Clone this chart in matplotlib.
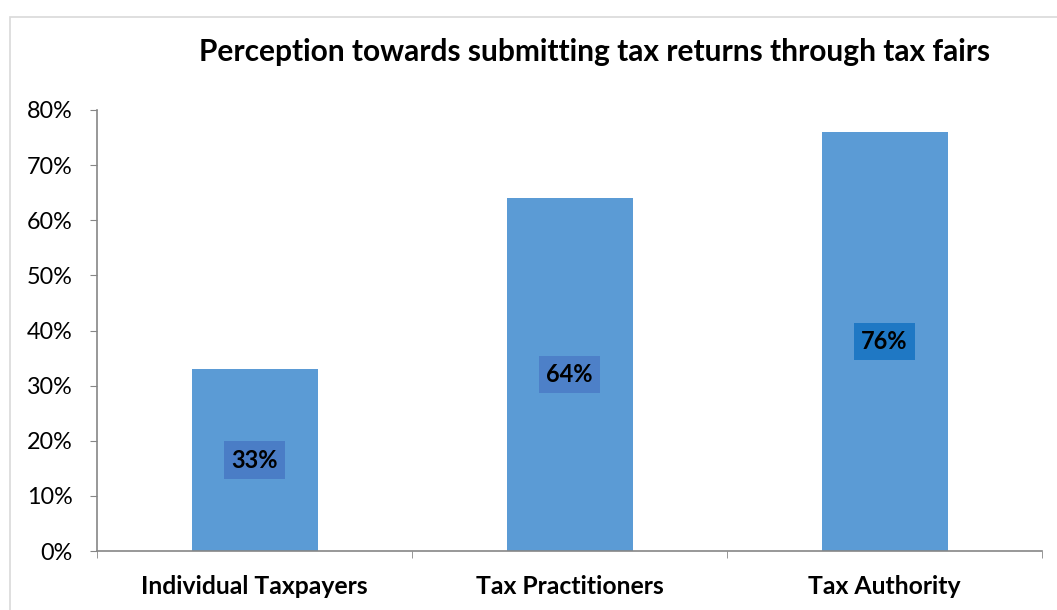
import matplotlib.pyplot as plt
from matplotlib.patches import Rectangle
from matplotlib.ticker import FixedLocator, PercentFormatter

# 数据
categories = ['Individual Taxpayers', 'Tax Practitioners', 'Tax Authority']
values = [0.33, 0.64, 0.76]
box_colors = ['#4a7dc6', '#4d80c8', '#1f78c4']
title = 'Perception towards submitting tax returns through tax fairs'

plt.rcParams['font.family'] = ['Lato', 'DejaVu Sans']

W, H = 1057, 610
fig = plt.figure(figsize=(W / 100, H / 100), dpi=100)

# 外框
fig.patches.append(Rectangle((10 / W, -0.2), 1.2, 1.2 - 17 / H, transform=fig.transFigure,
                             fill=False, ec='#d9d9d9', lw=1.2))

ax = fig.add_axes([97 / W, (H - 551) / H, 945 / W, 441 / H])

x = range(len(categories))
ax.bar(x, values, width=0.4, color='#5b9bd5', zorder=2)

# 数值标签（放在柱子中间）
for i, v in enumerate(values):
    ax.text(i, v / 2, f'{round(v * 100)}%', ha='center', va='center',
            fontsize=17, fontweight='bold', color='black',
            bbox=dict(boxstyle='square,pad=0.3', fc=box_colors[i], ec='none'))

ax.set_xlim(-0.5, len(categories) - 0.5)
ax.set_ylim(0, 0.8)
ax.set_yticks([i / 10 for i in range(9)])
ax.yaxis.set_major_formatter(PercentFormatter(1.0, decimals=0))

ax.set_xticks(list(x))
ax.set_xticklabels(categories, fontsize=17.8, fontweight='bold')
ax.xaxis.set_minor_locator(FixedLocator([-0.5, 0.5, 1.5, 2.5]))
ax.tick_params(axis='x', which='major', length=0, pad=17)
ax.tick_params(axis='x', which='minor', length=5, color='#868686', direction='out')
ax.tick_params(axis='y', length=5, color='#868686', labelsize=16.8, pad=12.5)

for s in ['top', 'right']:
    ax.spines[s].set_visible(False)
for s in ['left', 'bottom']:
    ax.spines[s].set_color('#868686')
    ax.spines[s].set_linewidth(1.2)

fig.text(595 / W, 1 - 52 / H, title, ha='center', va='center',
         fontsize=21.5, fontweight='bold')

plt.savefig('out.png', dpi=100)
plt.close()
